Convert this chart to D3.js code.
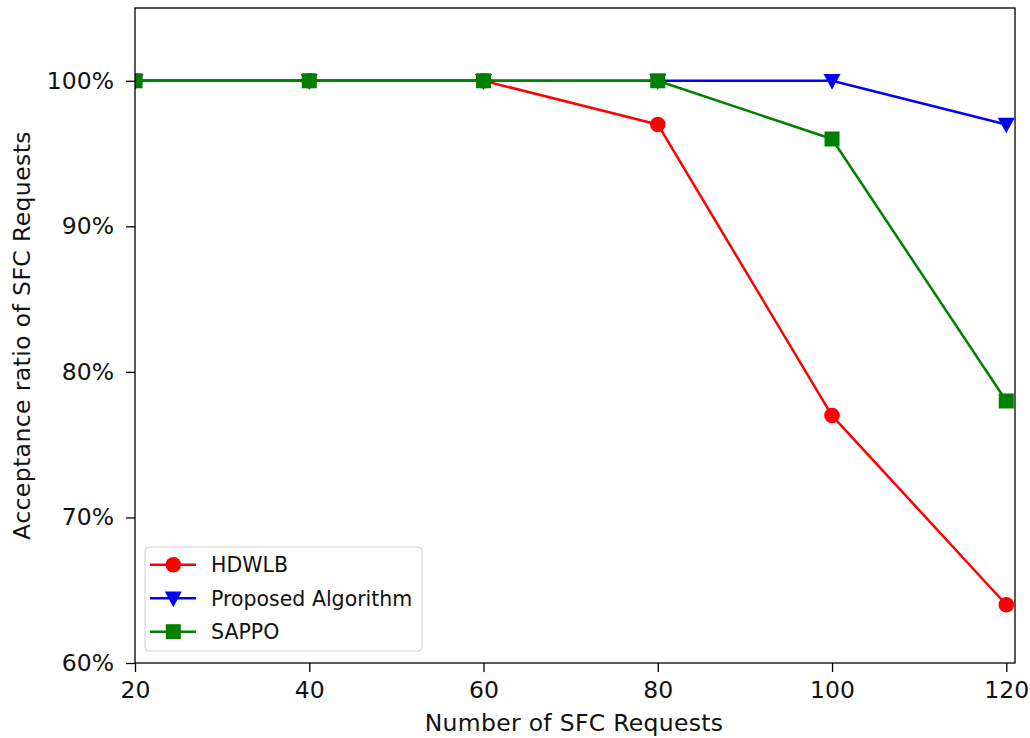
<!DOCTYPE html>
<html>
<head>
<meta charset="utf-8">
<script src="https://cdn.jsdelivr.net/npm/d3@7"></script>
<style>
  html, body { margin: 0; padding: 0; background: #fff; }
  svg { display: block; font-family: "DejaVu Sans", sans-serif; }
</style>
</head>
<body>
<svg id="chart" width="1030" height="738"></svg>
<script>
// Number of SFC requests on the x axis
const requests = [20, 40, 60, 80, 100, 120];
// Acceptance ratio (%) for each algorithm
const hdwlb    = [100, 100, 100, 97, 77, 64];
const proposed = [100, 100, 100, 100, 100, 97];
const sappo    = [100, 100, 100, 100, 96, 78];
const seriesNames = ["HDWLB", "Proposed Algorithm", "SAPPO"];
const xTicks = [20, 40, 60, 80, 100, 120];
const yTicks = [60, 70, 80, 90, 100];

const series = [
  { name: seriesNames[0], values: hdwlb,    color: "#ff0000", marker: "circle" },
  { name: seriesNames[1], values: proposed, color: "#0000ff", marker: "triangleDown" },
  { name: seriesNames[2], values: sappo,    color: "#008000", marker: "square" }
];

const svg = d3.select("#chart");
const plot = { left: 135, right: 1015, top: 8, bottom: 663 };

const x = d3.scaleLinear().domain([20, 121]).range([plot.left, plot.right]);
const y = d3.scaleLinear().domain([60, 105]).range([plot.bottom, plot.top]);

svg.append("defs").append("clipPath").attr("id", "plotClip")
  .append("rect")
  .attr("x", plot.left).attr("y", plot.top)
  .attr("width", plot.right - plot.left).attr("height", plot.bottom - plot.top);

function drawMarker(g, type, cx, cy, color) {
  if (type === "circle") {
    g.append("circle").attr("cx", cx).attr("cy", cy).attr("r", 7.8).attr("fill", color);
  } else if (type === "square") {
    g.append("rect").attr("x", cx - 7.5).attr("y", cy - 7.5)
      .attr("width", 15).attr("height", 15).attr("fill", color);
  } else {
    const s = 8.5;
    g.append("path")
      .attr("d", `M${cx - s},${cy - s * 0.8}L${cx + s},${cy - s * 0.8}L${cx},${cy + s * 1.05}Z`)
      .attr("fill", color);
  }
}

// Series lines and markers, clipped to the axes box
const data = svg.append("g").attr("clip-path", "url(#plotClip)");
const line = d3.line().x((d, i) => x(requests[i])).y(d => y(d));
series.forEach(s => {
  data.append("path").datum(s.values)
    .attr("d", line).attr("fill", "none")
    .attr("stroke", s.color).attr("stroke-width", 2.5)
    .attr("stroke-linejoin", "round");
  const mg = data.append("g");
  s.values.forEach((v, i) => drawMarker(mg, s.marker, x(requests[i]), y(v), s.color));
});

// Axes
const xAxis = d3.axisBottom(x).tickValues(xTicks).tickSizeInner(9).tickSizeOuter(0).tickPadding(9);
const yAxis = d3.axisLeft(y).tickValues(yTicks).tickSizeInner(9).tickSizeOuter(0).tickPadding(12)
  .tickFormat(d => d + "%");

const gx = svg.append("g").attr("transform", `translate(0,${plot.bottom})`).call(xAxis);
const gy = svg.append("g").attr("transform", `translate(${plot.left},0)`).call(yAxis);
[gx, gy].forEach(g => {
  g.select(".domain").remove();
  g.selectAll(".tick line").attr("stroke", "#000").attr("stroke-width", 1.3);
  g.selectAll(".tick text").attr("fill", "#111").style("font-size", "23.5px")
    .style("font-family", "DejaVu Sans, sans-serif");
});

// Axes frame
svg.append("rect")
  .attr("x", plot.left).attr("y", plot.top)
  .attr("width", plot.right - plot.left).attr("height", plot.bottom - plot.top)
  .attr("fill", "none").attr("stroke", "#000").attr("stroke-width", 1.3);

// Axis titles
svg.append("text")
  .attr("x", 574).attr("y", 731)
  .attr("text-anchor", "middle").attr("fill", "#111")
  .style("font-size", "23.5px").style("letter-spacing", "0.3px").text("Number of SFC Requests");
svg.append("text")
  .attr("transform", `translate(30,${(plot.top + plot.bottom) / 2}) rotate(-90)`)
  .attr("text-anchor", "middle").attr("fill", "#111")
  .style("font-size", "23.5px").style("letter-spacing", "0.4px").text("Acceptance ratio of SFC Requests");

// Legend
const legend = svg.append("g");
legend.append("rect")
  .attr("x", 145).attr("y", 547).attr("width", 277).attr("height", 104)
  .attr("rx", 4).attr("fill", "#fff").attr("fill-opacity", 0.8)
  .attr("stroke", "#d0d0d0").attr("stroke-width", 1);
series.forEach((s, i) => {
  const ly = 564.7 + i * 33.5;
  const row = legend.append("g");
  row.append("line").attr("x1", 150).attr("x2", 196).attr("y1", ly).attr("y2", ly)
    .attr("stroke", s.color).attr("stroke-width", 2.5);
  drawMarker(row, s.marker, 173.3, ly, s.color);
  row.append("text").attr("x", 211).attr("y", ly).attr("dy", "0.36em")
    .attr("fill", "#111").style("font-size", "20.5px").text(s.name);
});
</script>
</body>
</html>
